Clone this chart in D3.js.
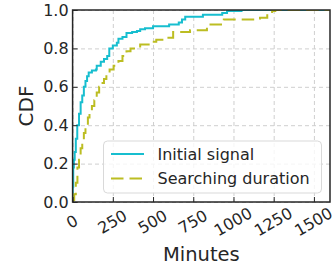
<!DOCTYPE html>
<html>
<head>
<meta charset="utf-8">
<script src="https://cdn.jsdelivr.net/npm/d3@7"></script>
<style>
  body { margin: 0; background: #fff; }
  svg { display: block; font-family: 'DejaVu Sans', sans-serif; }
</style>
</head>
<body>
<div id="chart"></div>
<script>
// CDF steps (minutes, cumulative fraction)
let initialMinutes = [0, 1, 4, 8, 13, 20, 29, 40, 50, 60, 70, 80, 90, 100, 120, 145, 150, 175, 195, 215, 228, 250, 275, 285, 310, 335, 370, 400, 420, 450, 500, 600, 660, 680, 700, 810, 930, 960, 1050, 1600];
let initialCdf = [0, 0.08, 0.18, 0.22, 0.26, 0.33, 0.40, 0.46, 0.52, 0.555, 0.60, 0.63, 0.655, 0.675, 0.685, 0.69, 0.71, 0.73, 0.745, 0.76, 0.80, 0.815, 0.83, 0.85, 0.86, 0.88, 0.885, 0.89, 0.90, 0.905, 0.915, 0.925, 0.935, 0.95, 0.965, 0.975, 0.985, 0.995, 1.0, 1.0];

let searchMinutes = [0, 3, 10, 20, 30, 40, 50, 60, 70, 80, 95, 105, 120, 135, 150, 165, 180, 195, 210, 230, 255, 285, 310, 335, 360, 420, 480, 520, 585, 625, 730, 835, 940, 1165, 1210, 1240, 1260, 1600];
let searchCdf = [0, 0.01, 0.04, 0.10, 0.18, 0.22, 0.28, 0.32, 0.36, 0.40, 0.44, 0.47, 0.50, 0.53, 0.57, 0.60, 0.62, 0.64, 0.66, 0.69, 0.71, 0.735, 0.76, 0.785, 0.80, 0.82, 0.835, 0.845, 0.855, 0.885, 0.895, 0.925, 0.95, 0.96, 0.98, 0.995, 1.0, 1.0];

let seriesNames = ['Initial signal', 'Searching duration'];
let seriesColors = ['#17becf', '#bcbd22'];
let xTicks = [0, 250, 500, 750, 1000, 1250, 1500];
let yTicks = [0, 0.2, 0.4, 0.6, 0.8, 1.0];

{
  let sizex = 332,
      sizey = 269;

  var margin = {top: 10, right: 2, bottom: 67, left: 72.6},
      width = sizex - margin.left - margin.right,
      height = sizey - margin.top - margin.bottom;

  var svg = d3.select("#chart")
    .append("svg")
      .attr("width", sizex)
      .attr("height", sizey)
    .append("g")
      .attr("transform", "translate(" + margin.left + "," + margin.top + ")");

  var scalex = d3.scaleLinear()
    .domain([0, 1600])
    .range([0, width]);
  var scaley = d3.scaleLinear()
    .domain([0, 1])
    .range([height, 0]);

  // dashed grid
  svg.append("g")
    .attr("class", "grid")
    .call(d3.axisBottom(scalex).tickValues(xTicks).tickSize(height).tickFormat(""))
    .call(g => g.select(".domain").remove());
  svg.append("g")
    .attr("class", "grid")
    .attr("transform", "translate(" + width + ",0)")
    .call(d3.axisLeft(scaley).tickValues(yTicks).tickSize(width).tickFormat(""))
    .call(g => g.select(".domain").remove());
  svg.selectAll(".grid line")
    .attr("stroke", "#cfcfcf")
    .attr("stroke-width", 1)
    .attr("stroke-dasharray", "4,3");

  // the two CDF step lines
  let series = [
    d3.zip(initialMinutes, initialCdf),
    d3.zip(searchMinutes, searchCdf)
  ];
  let line = d3.line()
    .x(d => scalex(d[0]))
    .y(d => scaley(d[1]))
    .curve(d3.curveStepAfter);

  svg.append("clipPath").attr("id", "clip")
    .append("rect").attr("width", width).attr("height", height);

  series.forEach(function(s, i) {
    svg.append("path")
      .datum(s)
      .attr("clip-path", "url(#clip)")
      .attr("fill", "none")
      .attr("stroke", seriesColors[i])
      .attr("stroke-width", 2)
      .attr("stroke-dasharray", i == 1 ? "12.5,6" : null)
      .attr("d", line);
  });

  // axes with inward ticks
  let xAxis = svg.append("g")
    .attr("transform", "translate(0," + height + ")")
    .call(d3.axisBottom(scalex).tickValues(xTicks).tickSize(-5).tickFormat(d3.format("d")));
  xAxis.selectAll("text")
    .attr("y", 0)
    .attr("dy", "0.36em")
    .attr("transform", "translate(-1,19.5)rotate(-30)")
    .style("text-anchor", "middle");

  let yAxis = svg.append("g")
    .call(d3.axisLeft(scaley).tickValues(yTicks).tickSize(-5).tickFormat(d3.format(".1f")));
  yAxis.selectAll("text").attr("x", -4);

  svg.selectAll(".tick line").filter(function() { return !this.closest(".grid"); })
    .attr("stroke", "#262626");
  svg.selectAll(".domain").remove();
  svg.selectAll("g text")
    .style("font", "16px 'DejaVu Sans'")
    .attr("fill", "#262626");

  // frame
  svg.append("rect")
    .attr("width", width)
    .attr("height", height)
    .attr("fill", "none")
    .attr("stroke", "#262626")
    .attr("stroke-width", 1.5);

  // legend
  let lg = svg.append("g").attr("transform", "translate(" + (103.5 - margin.left) + "," + (141 - margin.top) + ")");
  lg.append("rect")
    .attr("width", 218)
    .attr("height", 52)
    .attr("rx", 4)
    .attr("fill", "#fff")
    .attr("fill-opacity", 0.8)
    .attr("stroke", "#d9d9d9");
  seriesNames.forEach(function(name, i) {
    let yy = 13 + i * 24.5;
    lg.append("line")
      .attr("x1", 7.5).attr("x2", 40.5)
      .attr("y1", yy).attr("y2", yy)
      .attr("stroke", seriesColors[i])
      .attr("stroke-width", 2)
      .attr("stroke-dasharray", i == 1 ? "12.5,6" : null);
    lg.append("text")
      .attr("x", 54)
      .attr("y", yy + 5.5)
      .style("font", "16px 'DejaVu Sans'")
      .attr("fill", "#262626")
      .text(name);
  });

  svg.append("text")
    .style("font", "19.5px 'DejaVu Sans'")
    .attr("fill", "#262626")
    .attr("transform", "translate(" + (width / 2) + "," + (261 - margin.top) + ")")
    .style("text-anchor", "middle")
    .text("Minutes");

  svg.append("text")
    .style("font", "20px 'DejaVu Sans'")
    .attr("fill", "#262626")
    .attr("transform", "translate(" + (33 - margin.left) + "," + (height / 2) + ")rotate(-90)")
    .style("text-anchor", "middle")
    .text("CDF");
}
</script>
</body>
</html>
